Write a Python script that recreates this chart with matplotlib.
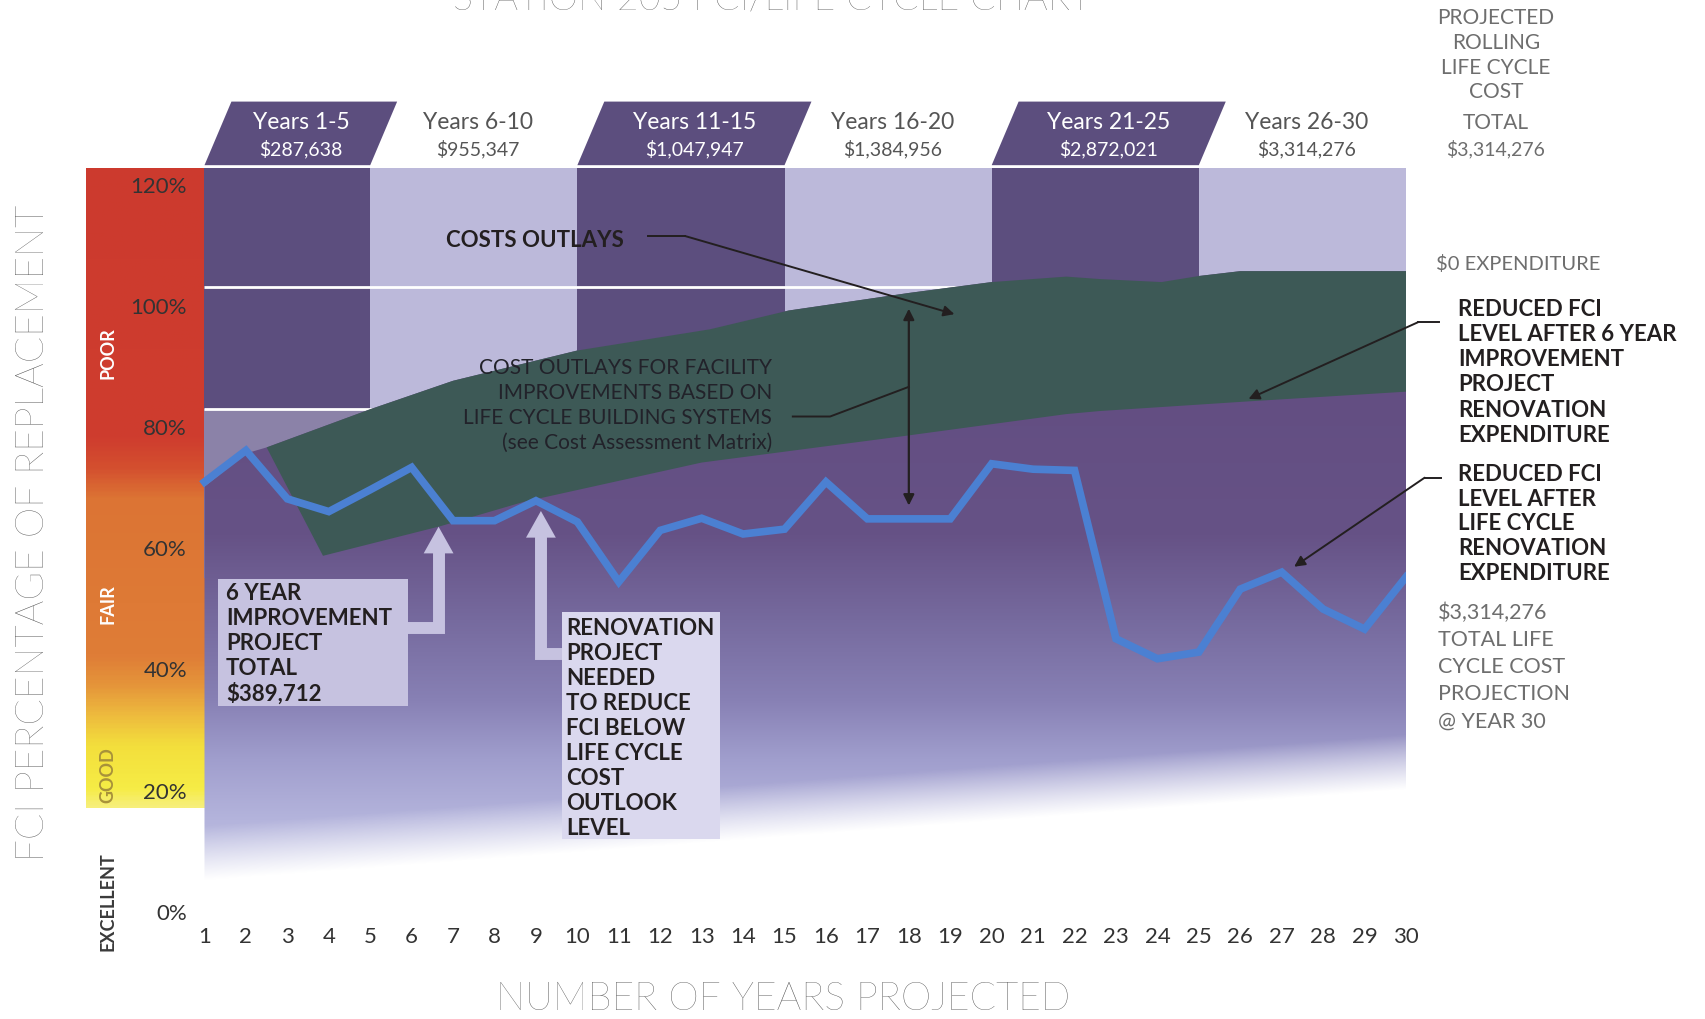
import numpy as np
import matplotlib
matplotlib.use("Agg")
import matplotlib.pyplot as plt
from matplotlib.colors import LinearSegmentedColormap
from matplotlib.patches import Polygon, Rectangle

plt.rcParams['font.family'] = ['Lato', 'DejaVu Sans']

# --- data ---
years = np.arange(1, 31)
fci_after_renovation = [70.8, 76.0, 68.0, 65.9, 69.5, 73.2, 64.4, 64.4, 67.7, 64.2,
                        54.3, 62.8, 64.8, 62.2, 63.0, 70.8, 64.7, 64.7, 64.7, 73.8,
                        72.9, 72.7, 44.9, 41.6, 42.7, 53.1, 55.9, 49.8, 46.5, 55.1]

# top edge of green band = FCI with $0 expenditure
zero_exp_x = [2.5, 5.0, 7.0, 10.0, 13.2, 15.1, 18.0, 20.0, 21.8, 22.6, 24.1, 25.0, 26.0, 30.0]
zero_exp_y = [76.5, 82.8, 87.5, 92.5, 96.0, 99.1, 102.0, 103.8, 104.7, 104.3, 103.8, 104.8, 105.6, 105.6]
# bottom edge of green band = FCI after 6 year improvement project
six_year_x = [3.86, 6.7, 8.7, 13.0, 17.8, 21.8, 22.6, 26.2, 30.0]
six_year_y = [58.6, 63.5, 67.5, 74.0, 78.3, 82.0, 82.5, 84.1, 85.7]

period_edges = [1, 5, 10, 15, 20, 25, 30]
period_names = ['Years 1-5', 'Years 6-10', 'Years 11-15', 'Years 16-20', 'Years 21-25', 'Years 26-30']
period_costs = ['$287,638', '$955,347', '$1,047,947', '$1,384,956', '$2,872,021', '$3,314,276']

pct_ticks = [0, 20, 40, 60, 80, 100, 120]
pct_labels = ['%d%%' % p for p in pct_ticks]

condition_names = ['EXCELLENT', 'GOOD', 'FAIR', 'POOR']
condition_pos = [1.6, 22.6, 50.8, 92.2]
condition_colors = ['#3a3a3a', '#a8923a', 'white', 'white']

scale_levels = [17, 20, 27, 32, 37, 42, 68, 73, 78, 122.7]
scale_colors = ['#f7ef7a', '#f6ec45', '#f3df3c', '#eebb3e', '#e5953a', '#df7d37',
                '#dc7434', '#d4502f', '#cf3d2e', '#cc3a2e']

TXT = '#231f20'
GRAY = '#6e6e6e'
LAV = '#c6c2e0'

fig = plt.figure(figsize=(17.06, 10.2), dpi=100)
ax = fig.add_axes([86 / 1706, 1 - 911.7 / 1020, 1320 / 1706, 743.1 / 1020])

# condition colour scale on the left
lv = np.linspace(17, 122.7, 400)
pos = (np.array(scale_levels) - 17) / (122.7 - 17)
cmap = LinearSegmentedColormap.from_list('fci', list(zip(pos, scale_colors)))
ax.imshow(lv[:, None], cmap=cmap, extent=[-1.86, 1, 17, 122.7], origin='lower',
          aspect='auto', zorder=0.5)
for name, y, c in zip(condition_names, condition_pos, condition_colors):
    ax.text(-1.34, y, name, rotation=90, ha='center', va='center', fontsize=13,
            fontweight='bold', color=c)

# period stripes
lefts = period_edges[:-1]
widths = np.diff(period_edges)
stripe_cols = ['#5c4e7e' if i % 2 == 0 else '#bcb9da' for i in range(len(lefts))]
ax.bar(lefts, 122.7 - 55, width=widths, bottom=55, align='edge', color=stripe_cols,
       linewidth=0, zorder=1)
ax.bar([1], [82.9 - 55], width=[4], bottom=55, align='edge', color='#8b82a8',
       linewidth=0, zorder=1.1)
ax.hlines([103.0, 82.9], 1, 30, colors='white', lw=2, zorder=1.5)

# purple body fading to white towards the bottom
body_left_x = [1.0, 2.0]
body_left_y = [70.0, 75.5]
fade_x = [1, 30]
fade_y = [5, 20]
bx = body_left_x + zero_exp_x
by = body_left_y + zero_exp_y
body_patch = Polygon(list(zip(bx, by)) + [(30, 0), (1, 0)], closed=True,
                     transform=ax.transData)
gx = np.linspace(1, 30, 580)
gy = np.linspace(0, 110, 550)
X, Y = np.meshgrid(gx, gy)
edge = np.interp(X, fade_x, fade_y)
alpha = np.clip((Y - edge) / 9, 0, 1)
sy = [0, 15, 25, 35, 48, 62, 110]
R = np.interp(Y, sy, [200, 180, 160, 135, 118, 102, 96])
G = np.interp(Y, sy, [202, 180, 158, 128, 106, 82, 74])
B = np.interp(Y, sy, [232, 220, 205, 180, 158, 134, 126])
rgba = np.dstack([R / 255, G / 255, B / 255, alpha])
im = ax.imshow(rgba, extent=[1, 30, 0, 110], origin='lower', aspect='auto', zorder=2,
               interpolation='bilinear')
im.set_clip_path(body_patch)

# green band
ax.fill(np.r_[zero_exp_x, six_year_x[::-1]], np.r_[zero_exp_y, six_year_y[::-1]],
        color='#3d5956', lw=0, zorder=3)

# blue FCI line
ax.plot(years, fci_after_renovation, color='#4b80d2', lw=5.5, zorder=4,
        solid_joinstyle='miter')

# header tabs
for i, (l, r) in enumerate(zip(period_edges[:-1], period_edges[1:])):
    dark = i % 2 == 0
    if dark:
        ax.add_patch(Polygon([(l, 123.1), (r, 123.1), (r + 0.65, 133.6), (l + 0.65, 133.6)],
                             closed=True, fc='#5c4e7e', ec='none', clip_on=False, zorder=2))
    cx = (l + r) / 2 + (0.33 if dark else 0.1)
    col = 'white' if dark else '#555555'
    ax.text(cx, 130.3, period_names[i], ha='center', va='center', fontsize=16.5, color=col)
    ax.text(cx, 126.0, period_costs[i], ha='center', va='center', fontsize=14, color=col)


def block(x, y0, lines, step, **kw):
    for k, s in enumerate(lines):
        ax.text(x, y0 - k * step, s, va='center', **kw)


# right side notes
block(32.17, 147.5, ['PROJECTED', 'ROLLING', 'LIFE CYCLE', 'COST'], 4.07,
      ha='center', fontsize=15, color=GRAY)
ax.text(32.17, 130.3, 'TOTAL', ha='center', va='center', fontsize=15, color=GRAY)
ax.text(32.17, 126.0, '$3,314,276', ha='center', va='center', fontsize=14, color=GRAY)
ax.text(30.73, 106.9, '$0 EXPENDITURE', va='center', fontsize=14.5, color=GRAY)
block(31.25, 99.4, ['REDUCED FCI', 'LEVEL AFTER 6 YEAR', 'IMPROVEMENT', 'PROJECT',
                    'RENOVATION', 'EXPENDITURE'], 4.14,
      fontsize=16, fontweight='bold', color=TXT)
block(31.25, 72.2, ['REDUCED FCI', 'LEVEL AFTER', 'LIFE CYCLE', 'RENOVATION',
                    'EXPENDITURE'], 4.08, fontsize=16, fontweight='bold', color=TXT)
block(30.78, 49.4, ['$3,314,276', 'TOTAL LIFE', 'CYCLE COST', 'PROJECTION', '@ YEAR 30'],
      4.5, fontsize=15.5, color=GRAY)

arrow_kw = dict(arrowstyle='-|>', color=TXT, lw=1.4, mutation_scale=16,
                shrinkA=0, shrinkB=0)
ax.plot([30.8, 30.3], [97.2, 97.2], color=TXT, lw=1.4, clip_on=False, zorder=6)
ax.annotate('', xy=(26.2, 84.5), xytext=(30.3, 97.2), arrowprops=arrow_kw,
            annotation_clip=False, zorder=6)
ax.plot([30.85, 30.45], [71.5, 71.5], color=TXT, lw=1.4, clip_on=False, zorder=6)
ax.annotate('', xy=(27.3, 56.8), xytext=(30.45, 71.5), arrowprops=arrow_kw,
            annotation_clip=False, zorder=6)

# in-chart notes
ax.text(6.83, 110.9, 'COSTS OUTLAYS', va='center', fontsize=16, fontweight='bold',
        color=TXT, zorder=6)
ax.plot([11.7, 12.6], [111.4, 111.4], color=TXT, lw=1.4, zorder=6)
ax.annotate('', xy=(19.1, 98.5), xytext=(12.6, 111.4), arrowprops=arrow_kw, zorder=6)
block(14.7, 89.8, ['COST OUTLAYS FOR FACILITY', 'IMPROVEMENTS BASED ON',
                   'LIFE CYCLE BUILDING SYSTEMS', '(see Cost Assessment Matrix)'], 4.13,
      ha='right', fontsize=15, color='#22222a', zorder=6)
ax.plot([15.2, 16.1, 18.0], [81.6, 81.6, 86.5], color=TXT, lw=1.4, zorder=6)
ax.annotate('', xy=(18, 99.4), xytext=(18, 66.9),
            arrowprops=dict(arrowstyle='<|-|>', color=TXT, lw=1.6, mutation_scale=16,
                            shrinkA=0, shrinkB=0), zorder=6)

# light boxes with block arrows
ax.add_patch(Rectangle((1.32, 33.8), 5.91 - 1.32, 54.8 - 33.8, fc=LAV, ec='none',
                       zorder=5))
ax.add_patch(Rectangle((9.63, 11.8), 13.44 - 9.63, 49.3 - 11.8, fc='#dad8ee', ec='none',
                       zorder=5))
ax.plot([5.91, 6.65, 6.65], [46.7, 46.7, 59.2], color=LAV, lw=8.6, zorder=5,
        solid_joinstyle='miter', solid_capstyle='butt')
ax.add_patch(Polygon([(6.29, 59.0), (7.01, 59.0), (6.65, 63.4)], fc=LAV, ec='none',
                     zorder=5))
ax.plot([9.63, 9.12, 9.12], [42.4, 42.4, 61.8], color=LAV, lw=8.6, zorder=5,
        solid_joinstyle='miter', solid_capstyle='butt')
ax.add_patch(Polygon([(8.76, 61.6), (9.48, 61.6), (9.12, 66.0)], fc=LAV, ec='none',
                     zorder=5))
block(1.52, 52.6, ['6 YEAR', 'IMPROVEMENT', 'PROJECT', 'TOTAL', '$389,712'], 4.13,
      fontsize=16, fontweight='bold', color=TXT, zorder=6)
block(9.72, 46.7, ['RENOVATION', 'PROJECT', 'NEEDED', 'TO REDUCE', 'FCI BELOW',
                   'LIFE CYCLE', 'COST', 'OUTLOOK', 'LEVEL'], 4.13,
      fontsize=16, fontweight='bold', color=TXT, zorder=6)

# axes
ax.set_xlim(-1.86, 30)
ax.set_ylim(0, 122.7)
ax.set_xticks(years)
ax.set_xticklabels([str(y) for y in years])
ax.set_yticks(pct_ticks)
ax.set_yticklabels(pct_labels)
ax.tick_params(axis='x', length=0, pad=11, labelsize=16, labelcolor='#333333')
ax.tick_params(axis='y', length=0, pad=-72.7, labelsize=16, labelcolor='#333333')
for s in ax.spines.values():
    s.set_visible(False)

ax.set_ylabel('FCI PERCENTAGE OF REPLACEMENT', fontsize=28, color='#4a4a4a',
              fontweight='light', va='center', ha='center')
ax.yaxis.set_label_coords(-0.0402, 0.5096)
ax.set_xlabel('NUMBER OF YEARS PROJECTED', fontsize=28, color='#4a4a4a',
              fontweight='light', va='center', ha='center')
ax.xaxis.set_label_coords(0.528, -0.1175)

fig.text(772.5 / 1706, 1 - 9.5 / 1020, 'STATION 205 FCI/LIFE CYCLE CHART', ha='center',
         va='baseline', fontsize=27, color='#4a4a4a', fontweight='light')

fig.savefig('out.png', dpi=100, facecolor='white')
